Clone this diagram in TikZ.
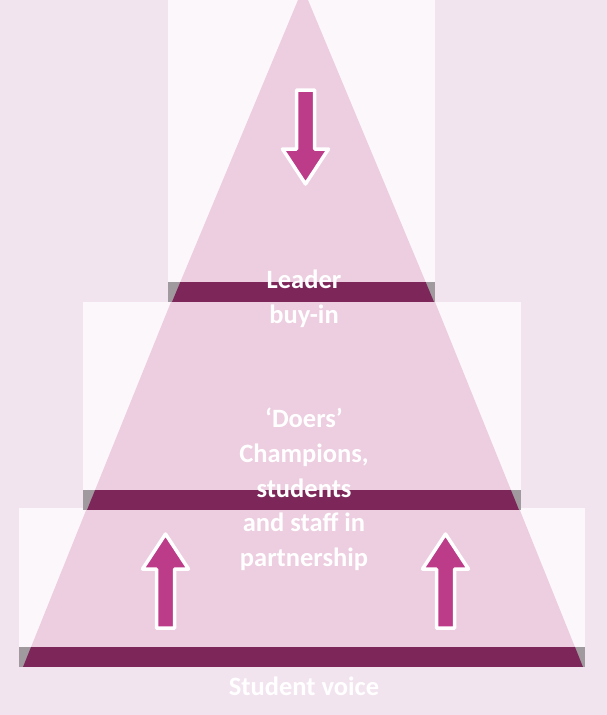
\documentclass[tikz,border=0pt]{standalone}
\usepackage{fontspec}
\setmainfont{Carlito}
\definecolor{bgLilac}{RGB}{242,228,239}
\definecolor{paneWhite}{RGB}{252,247,251}
\definecolor{pieceRose}{RGB}{237,205,224}
\definecolor{bandGrey}{RGB}{160,153,157}
\definecolor{bandPlum}{RGB}{125,38,89}
\definecolor{arrowPink}{RGB}{188,60,138}

\begin{document}
\begin{tikzpicture}[x=1pt,y=-1pt,
	pane/.style={fill=paneWhite},
	piece/.style={fill=pieceRose},
	band/.style={fill=bandGrey},
	bandin/.style={fill=bandPlum},
	blockarrow/.style={fill=arrowPink,draw=white,line width=3.5pt,line join=round},
	lbl/.style={text=white,font=\bfseries\fontsize{26.5}{34.7}\selectfont,align=center,inner sep=0pt}]
	\useasboundingbox[fill=bgLilac] (0,0) rectangle (607,715);

	% layers, bottom first: pane box, then the slice of the pyramid
	\foreach \l/\r/\t/\b/\tl/\tr/\ty/\bl/\br in {19/585/508/667/87/519/508/23/583,
		83/521/302/510/171/435/302/87/519,
		168/435/0/302/303/303/-12/172/434}{
		\fill[pane] (\l,\t) rectangle (\r,\b);
		\fill[band] (\l,\b-20) rectangle (\r,\b);
		\begin{scope}
			\clip (\tl,\ty) -- (\tr,\ty) -- (\br,\b) -- (\bl,\b) -- cycle;
			\fill[piece] (\l,\ty) rectangle (\r,\b-20);
			\fill[bandin] (\l,\b-20) rectangle (\r,\b);
		\end{scope}
	}

	% block arrows: down from the top, up from the bottom
	\foreach \cx/\cy/\d in {305.5/90/1, 165.5/628/-1, 445.5/628/-1}
		\draw[blockarrow] (\cx-9,\cy) -- (\cx-9,\cy+\d*59) -- (\cx-23,\cy+\d*59) -- (\cx,\cy+\d*94)
			-- (\cx+23,\cy+\d*59) -- (\cx+9,\cy+\d*59) -- (\cx+9,\cy) -- cycle;

	\node[lbl,anchor=north] (leader) at (304,270) {Leader\\buy-in};
	\node[lbl,anchor=north] (doers) at (304,408) {‘Doers’\\Champions,\\students\\and staff in\\partnership};
	\node[lbl,anchor=base] (voice) at (304,695) {Student voice};
\end{tikzpicture}
\end{document}
